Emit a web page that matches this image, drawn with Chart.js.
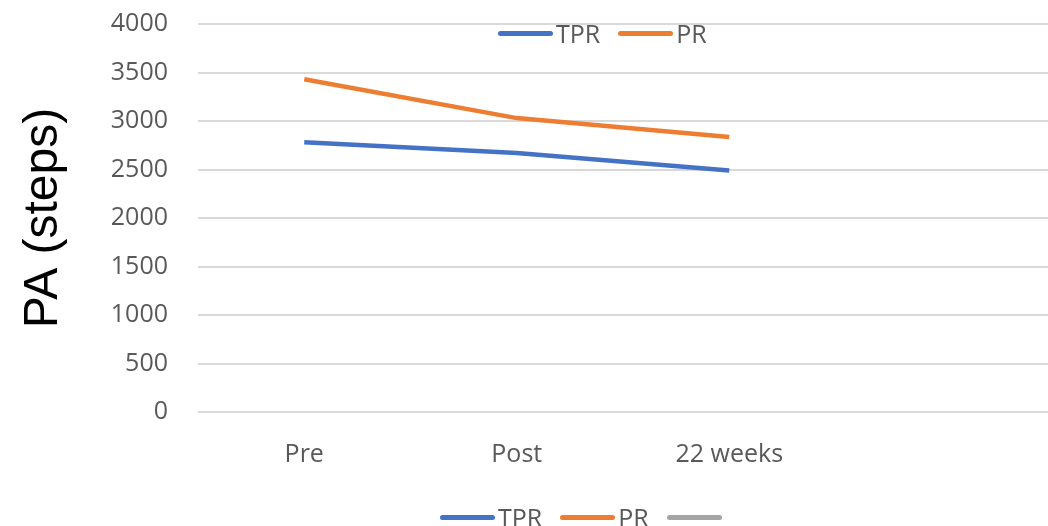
<!DOCTYPE html>
<html>
<head>
<meta charset="utf-8">
<script src="https://cdn.jsdelivr.net/npm/chart.js@4.4.1/dist/chart.umd.min.js"></script>
<style>
    html, body { margin: 0; padding: 0; background: #fff; }
    #wrap { position: relative; width: 1048px; height: 526px; }
    .legend {
        position: absolute;
        font-family: "Open Sans", sans-serif; font-size: 25px; color: #595959;
        display: flex; align-items: center; white-space: nowrap; line-height: 30px;
    }
    .legend .ln { display: inline-block; width: 55px; height: 5px; border-radius: 3px; margin-right: 3px; }
    .legend .lab { margin-right: 18px; }
    #topLegend { top: 18px; left: 498px; }
    #bottomLegend { top: 502px; left: 440px; }
</style>
</head>
<body>
<div id="wrap">
    <canvas id="chart" width="1048" height="526"></canvas>
    <div id="topLegend" class="legend"></div>
    <div id="bottomLegend" class="legend"></div>
</div>
<script>
// chart values
const categories = ['Pre', 'Post', '22 weeks', ''];
const tprValues = [2780, 2670, 2490, null];
const prValues = [3430, 3030, 2835, null];
const emptyValues = [null, null, null, null];
const yTicks = [0, 500, 1000, 1500, 2000, 2500, 3000, 3500, 4000];

const seriesLabels = ['TPR', 'PR', ''];
const seriesColors = ['#4472C4', '#ED7D31', '#A5A5A5'];

// html legends: one inside the plot (TPR, PR) and one under the chart (all three)
function buildLegend(id, count) {
    const el = document.getElementById(id);
    for (let i = 0; i < count; i++) {
        const ln = document.createElement('span');
        ln.className = 'ln';
        ln.style.background = seriesColors[i];
        el.appendChild(ln);
        if (seriesLabels[i]) {
            const lab = document.createElement('span');
            lab.className = 'lab';
            lab.textContent = seriesLabels[i];
            el.appendChild(lab);
        }
    }
}
buildLegend('topLegend', 2);
buildLegend('bottomLegend', 3);

var ctx = document.getElementById('chart').getContext('2d');
new Chart(ctx, {
    type: 'line',
    data: {
        labels: categories,
        datasets: [tprValues, prValues, emptyValues].map((vals, i) => ({
            label: seriesLabels[i],
            data: vals,
            borderColor: seriesColors[i],
            backgroundColor: seriesColors[i],
            borderWidth: 4.5,
            pointRadius: 0,
            tension: 0
        }))
    },
    options: {
        responsive: false,
        animation: false,
        layout: { padding: { top: 24, right: 0, left: 15, bottom: 52 } },
        plugins: {
            tooltip: { enabled: false },
            legend: { display: false }
        },
        scales: {
            x: {
                offset: true,
                grid: { display: false },
                border: { display: false },
                ticks: {
                    color: '#595959',
                    padding: 20,
                    font: { family: 'Open Sans', size: 25 }
                },
                afterFit: axis => { axis.height = 62; }
            },
            y: {
                min: 0,
                max: 4000,
                afterBuildTicks: axis => { axis.ticks = yTicks.map(v => ({ value: v })); },
                grid: { color: '#D9D9D9', lineWidth: 2, drawTicks: false },
                border: { display: false },
                ticks: {
                    color: '#595959',
                    padding: 30,
                    font: { family: 'Open Sans', size: 25 },
                    callback: v => String(v)
                },
                title: {
                    display: true,
                    text: 'PA (steps)',
                    color: '#000',
                    padding: { top: 0, bottom: 0 },
                    font: { family: 'Liberation Sans', size: 48 }
                },
                afterFit: axis => {
                    axis.width = 183;
                    axis.paddingTop = 0;
                    axis.paddingBottom = 0;
                }
            }
        }
    }
});
</script>
</body>
</html>
